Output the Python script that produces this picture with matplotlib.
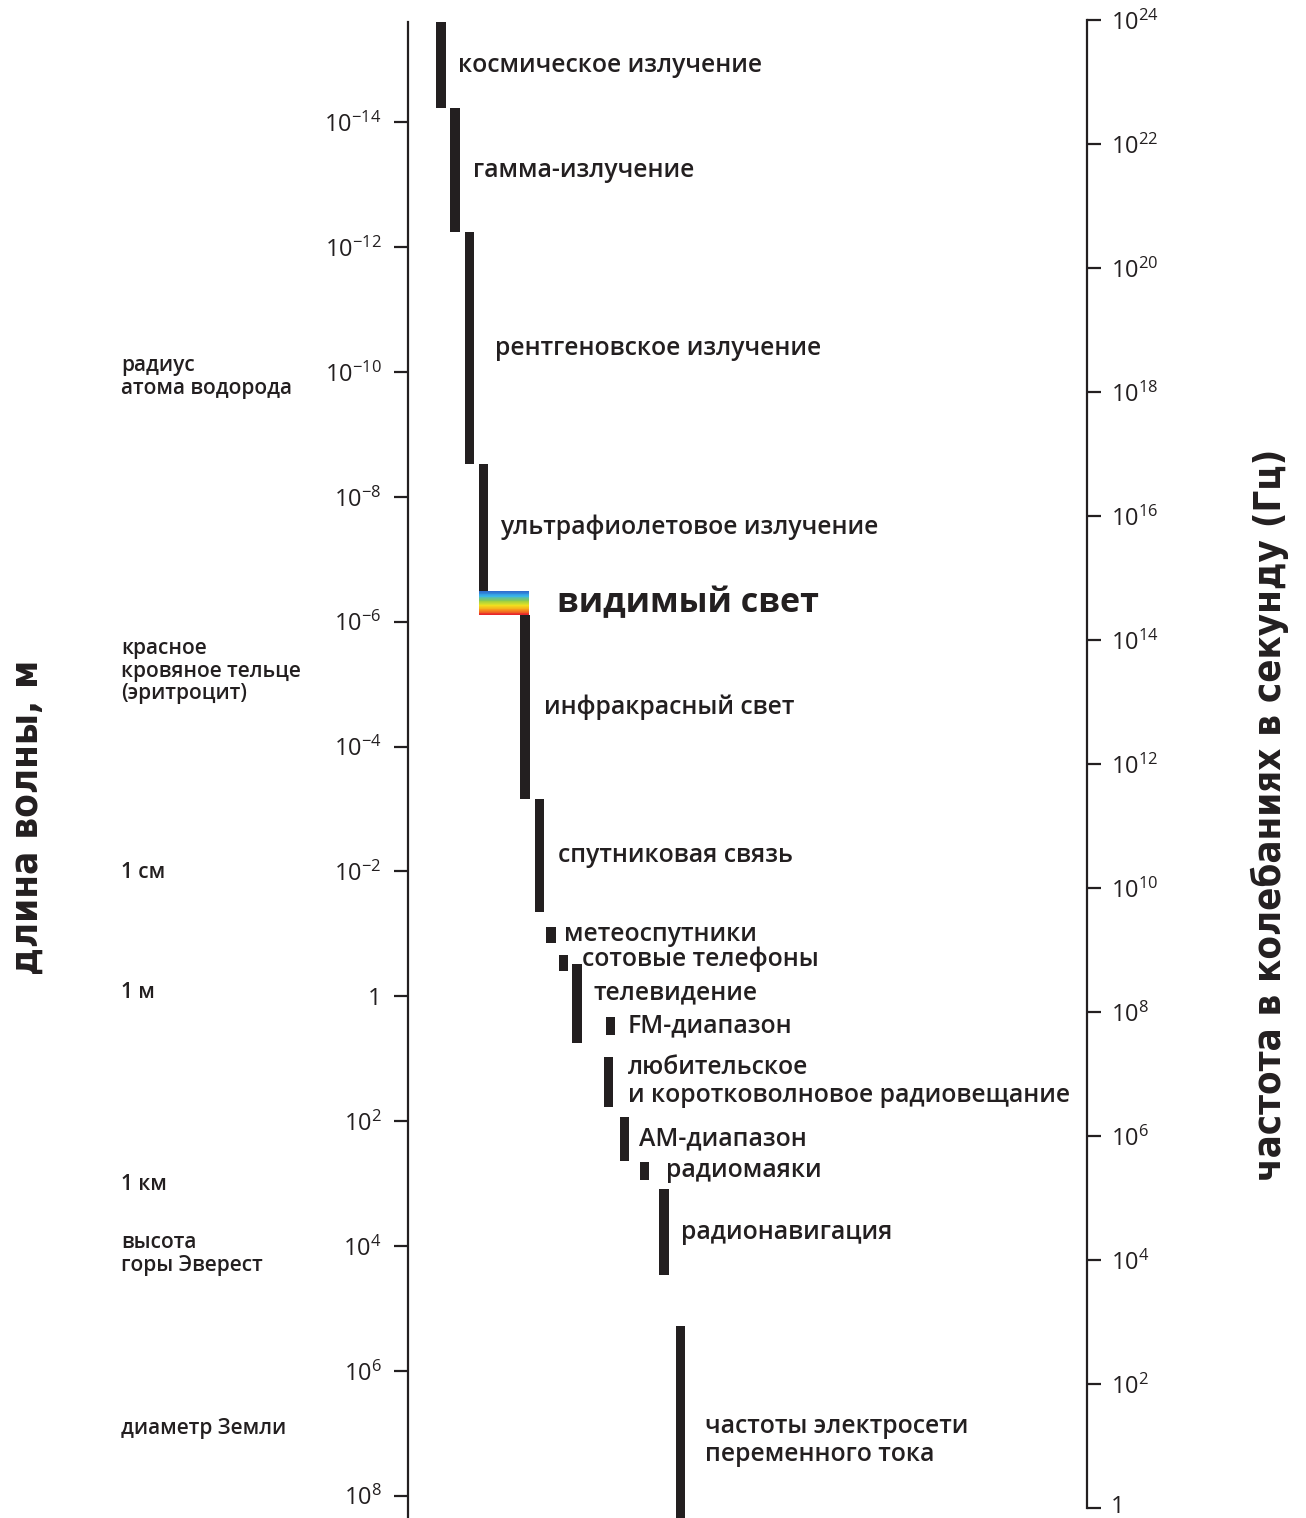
import numpy as np
import matplotlib
matplotlib.use("Agg")
import matplotlib.pyplot as plt
import matplotlib.transforms as mtransforms
from matplotlib import font_manager as fm
from matplotlib.colors import LinearSegmentedColormap
from matplotlib.ticker import NullLocator

plt.rcParams['font.family'] = ['Open Sans', 'DejaVu Sans']
plt.rcParams['mathtext.fontset'] = 'custom'
plt.rcParams['mathtext.rm'] = 'Open Sans'
plt.rcParams['mathtext.it'] = 'Open Sans'
plt.rcParams['mathtext.bf'] = 'Open Sans:bold'

INK = '#231f20'

# spectrum bands, wavelength range as log10(metres)
band_names = [
    'космическое излучение', 'гамма-излучение', 'рентгеновское излучение',
    'ультрафиолетовое излучение', 'видимый свет', 'инфракрасный свет',
    'спутниковая связь', 'метеоспутники', 'сотовые телефоны', 'телевидение',
    'FM-диапазон', 'любительское\nи коротковолновое радиовещание',
    'АМ-диапазон', 'радиомаяки', 'радионавигация',
    'частоты электросети\nпеременного тока',
]
band_lo = [-15.6, -14.23, -12.24, -8.53, -6.49, -6.11, -3.16, -1.11, -0.66,
           -0.52, 0.33, 0.97, 1.93, 2.65, 3.09, 5.28]
band_hi = [-14.23, -12.24, -8.53, -6.49, -6.11, -3.16, -1.35, -0.86, -0.41,
           0.75, 0.62, 1.77, 2.64, 2.94, 4.46, 8.4]

# staircase column of each band (px right of the wavelength axis)
band_x = [33, 47, 61.5, 75.5, 96, 117, 131.5, 143, 155.5, 169, 202.5, 200.5,
          216.5, 236.5, 256, 272.5]
band_w = [9.5] * 16
band_w[4] = 50
label_gap = [12, 13, 21, 12, 28, 14, 14, 8, 14, 12, 12, 15, 10, 17, 12, 20]
label_shift = {8: -0.06, 9: -0.17, 15: 0.27}   # nudges of label centre (decades)

# reference sizes on the left
ref_names = ['радиус\nатома водорода', 'красное\nкровяное тельце\n(эритроцит)',
             '1 см', '1 м', '1 км', 'высота\nгоры Эверест', 'диаметр Земли']
ref_exp = [-9.92, -5.21, -1.99, -0.06, 3.02, 4.13, 6.93]

wl_ticks = list(range(-14, 9, 2))
freq_ticks = list(range(0, 25, 2))


def narrow_bold():
    names = {(f.name, f.stretch) for f in fm.fontManager.ttflist}
    if any(n == 'Liberation Sans Narrow' for n, _ in names):
        return dict(family='Liberation Sans Narrow')
    if ('DejaVu Sans', 'condensed') in names:
        return dict(family='DejaVu Sans', fontstretch='condensed')
    return dict(family='Open Sans')


W, H = 1306, 1518
fig = plt.figure(figsize=(W / 100, H / 100), dpi=100)

ax = fig.add_axes([408 / W, 0, (1087 - 408) / W, (1518 - 22) / H])
ax.set_yscale('log')
ax.set_ylim(10 ** 8.356, 10 ** -15.607)
ax.set_xlim(0, 679)
for s in ['top', 'right', 'bottom']:
    ax.spines[s].set_visible(False)
ax.spines['left'].set_linewidth(1.6)
ax.spines['left'].set_color(INK)
ax.set_xticks([])
ax.set_yticks([10.0 ** e for e in wl_ticks])
ax.set_yticklabels(['1' if e == 0 else r'$10^{%d}$' % e for e in wl_ticks])
ax.yaxis.set_minor_locator(NullLocator())
ax.tick_params(axis='y', direction='out', length=10, width=1.6, pad=9,
               labelsize=17, colors=INK)

rainbow = LinearSegmentedColormap.from_list(
    'rb', ['#2f6fd0', '#39b6ea', '#8ccb4a', '#f2e51e', '#f7981d', '#e8262a'])

for i, name in enumerate(band_names):
    lo, hi = 10.0 ** band_lo[i], 10.0 ** band_hi[i]
    if i == 4:
        edges = np.logspace(band_lo[i], band_hi[i], 31)
        for k in range(30):
            ax.bar(band_x[i], edges[k + 1] - edges[k], bottom=edges[k],
                   width=band_w[i], color=rainbow(k / 29), linewidth=0)
    else:
        ax.bar(band_x[i], hi - lo, bottom=lo, width=band_w[i], color=INK,
               linewidth=0)
    ymid = 10.0 ** ((band_lo[i] + band_hi[i]) / 2 + label_shift.get(i, 0))
    tx = band_x[i] + band_w[i] / 2 + label_gap[i]
    if i == 4:
        ax.text(tx, ymid, name, ha='left', va='center', fontsize=24.5,
                fontweight='bold', color=INK)
    else:
        ax.text(tx, ymid, name, ha='left', va='center', fontsize=17.8,
                fontweight='semibold', color=INK, linespacing=1.15)

for name, e in zip(ref_names, ref_exp):
    ax.text(-287, 10.0 ** e, name, ha='left', va='center', fontsize=15,
            fontweight='semibold', color=INK, linespacing=1.1, clip_on=False)

# frequency axis
ax2 = fig.add_axes([1087 / W - 0.001, 10 / H, 0.001, (1508 - 20) / H])
ax2.set_yscale('log')
ax2.set_ylim(1, 1e24)
for s in ['top', 'left', 'bottom']:
    ax2.spines[s].set_visible(False)
ax2.spines['right'].set_linewidth(1.6)
ax2.spines['right'].set_color(INK)
ax2.patch.set_visible(False)
ax2.set_xticks([])
ax2.yaxis.tick_right()
ax2.set_yticks([10.0 ** e for e in freq_ticks])
ax2.set_yticklabels(['1' if e == 0 else r'$10^{%d}$' % e for e in freq_ticks])
ax2.yaxis.set_minor_locator(NullLocator())
ax2.tick_params(axis='y', direction='out', length=10, width=1.6, pad=7,
                labelsize=17, colors=INK)
# lift the bottom "1" a little so it stays inside the picture
lab0 = ax2.get_yticklabels()[0]
lab0.set_transform(lab0.get_transform() + mtransforms.ScaledTranslation(
    0, 4 / 100, fig.dpi_scale_trans))

# axis titles, sized so their length matches the original
title_font = narrow_bold()
t1 = fig.text(28 / W, 1 - 817 / H, 'длина волны, м', rotation=90,
              ha='center', va='center', fontsize=30, fontweight=800,
              color=INK, **title_font)
t2 = fig.text(1270 / W, 1 - 815 / H, 'частота в колебаниях в секунду (Гц)',
              rotation=90, ha='center', va='center', fontsize=30,
              fontweight=800, color=INK, **title_font)
fig.canvas.draw()
rend = fig.canvas.get_renderer()
for t, target in [(t1, 315), (t2, 730)]:
    t.set_fontsize(30 * target / t.get_window_extent(rend).height)

fig.savefig('out.png', dpi=100, facecolor='white')
